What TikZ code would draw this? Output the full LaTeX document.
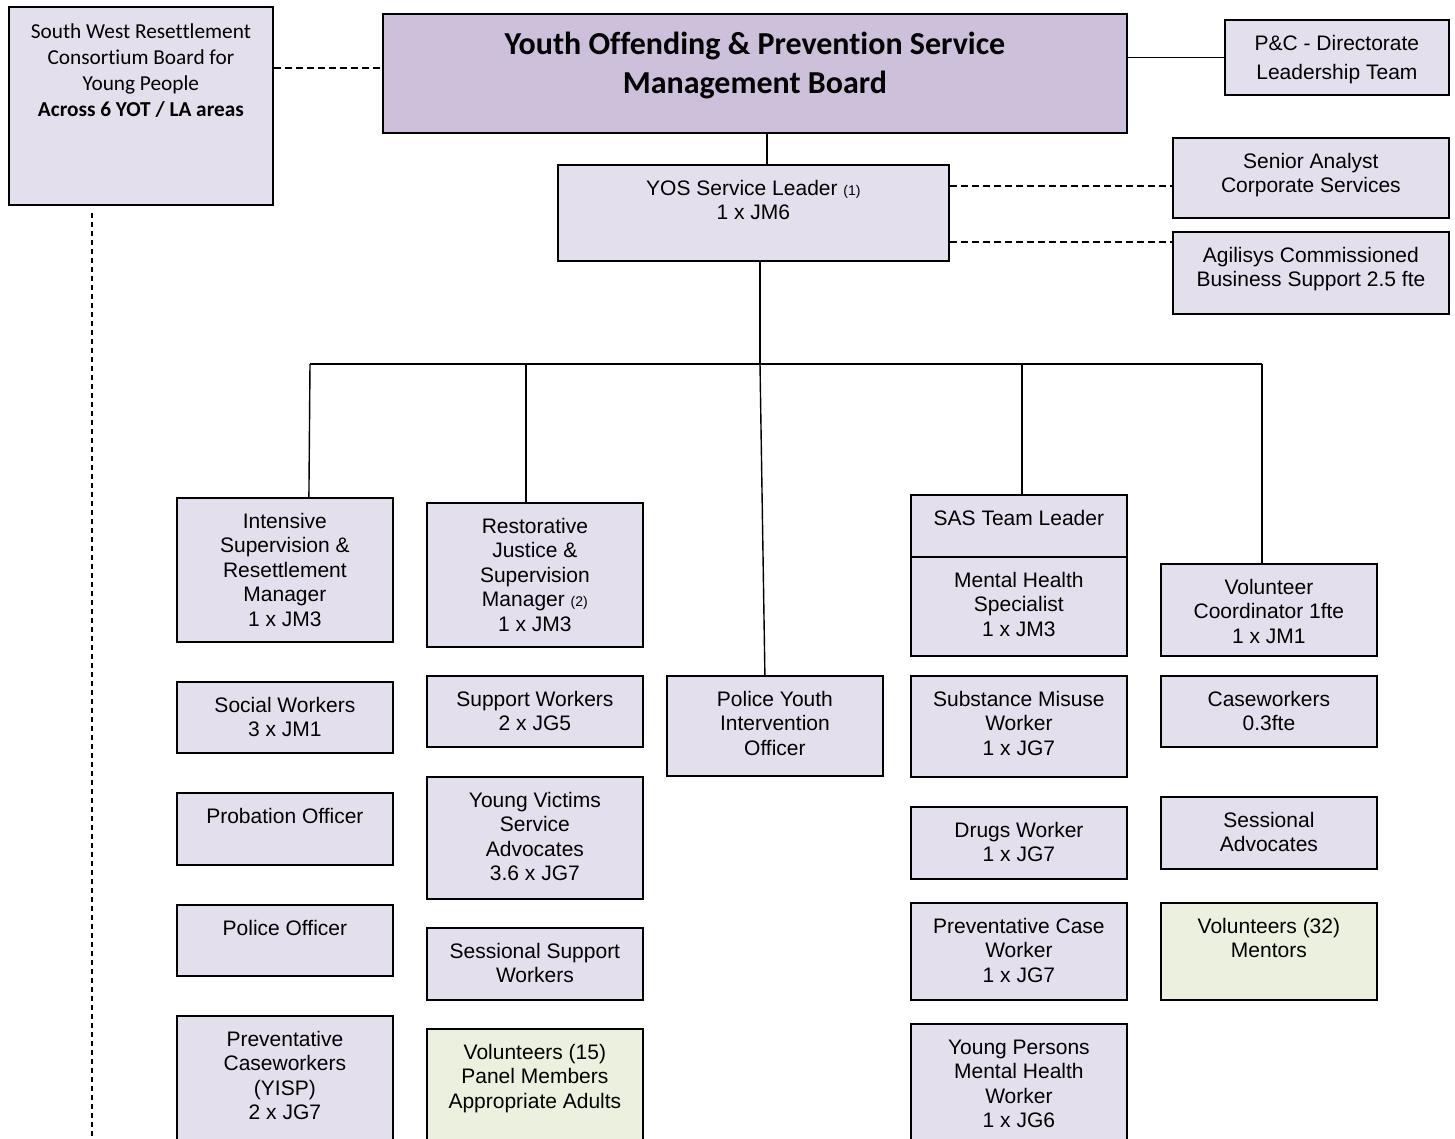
\documentclass[tikz,border=0pt]{standalone}
\usepackage{fontspec}
\setmainfont{Liberation Sans}
\newfontfamily\calib[Ligatures=NoCommon]{Carlito}
\definecolor{lav}{HTML}{E4DFEC}
\definecolor{brd}{HTML}{CCC0DA}
\definecolor{grn}{HTML}{EBF1DE}
\tikzset{
  obx/.style={draw=black, line width=1.8pt, fill=lav, inner sep=0pt, rectangle},
  otx/.style={inner sep=0pt, align=center, font=\fontsize{21}{24.5}\selectfont},
  conn/.style={line width=1.4pt, black},
  dsh/.style={line width=1.4pt, dash pattern=on 7pt off 4pt},
  dshv/.style={line width=1.6pt, dash pattern=on 5pt off 4pt},
}
\newcommand\mystrut{\rule{0pt}{16pt}}
\newcommand\sm[1]{{\fontsize{14}{14}\selectfont #1}}
\newcommand\obox[7][]{%
  \node[obx,#1,minimum width=#5-#3,minimum height=#6-#4,anchor=north west] (#2) at (#3,#4) {};
  \node[otx,anchor=north] (#2t) at ([yshift=-15pt]#2.north) {\mystrut#7};
}
\begin{document}
\begin{tikzpicture}[x=1pt,y=-1pt]
\useasboundingbox (0,0) rectangle (1455,1138);
\clip (0,0) rectangle (1455,1138);
\fill[white] (0,0) rectangle (1455,1138);

% top
\node[obx, fill=brd, minimum width=744, minimum height=119, anchor=north west] (board) at (382,13) {};
\node[inner sep=0pt, align=center, font=\calib\bfseries\fontsize{32}{39}\selectfont, anchor=north] (boardt) at ([yshift=-16pt]board.north) {\rule{0pt}{25pt}Youth Offending \& Prevention Service\\Management Board};

\node[obx, minimum width=264, minimum height=198, anchor=north west] (sw) at (8,6) {};
\node[inner sep=0pt, align=center, font=\calib\fontsize{21.3}{26}\selectfont, anchor=north] (swt) at ([yshift=-15pt]sw.north) {\rule{0pt}{17pt}South West Resettlement\\Consortium Board for\\Young People\\\textbf{Across 6 YOT / LA areas}};

\obox{pc}{1224}{19}{1448}{94}{P\&C - Directorate\\[4.5pt]Leadership Team}
\obox{yos}{557}{164}{948}{260}{YOS Service Leader \sm{(1)}\\1 x JM6}
\obox{sa}{1172}{137}{1448}{217}{Senior Analyst\\Corporate Services}
\obox{ag}{1172}{231}{1448}{313}{Agilisys Commissioned\\Business Support 2.5 fte}

% column 1
\obox{isr}{176}{497}{392}{641}{Intensive\\Supervision \&\\Resettlement\\Manager\\1 x JM3}
\obox{soc}{176}{681}{392}{752}{Social Workers\\3 x JM1}
\obox{prob}{176}{792}{392}{864}{Probation Officer}
\obox{pol}{176}{904}{392}{975}{Police Officer}
\obox{pcw}{176}{1015}{392}{1150}{Preventative\\Caseworkers\\(YISP)\\2 x JG7}

% column 2
\obox{rj}{426}{502}{642}{646}{Restorative\\Justice \&\\Supervision\\Manager \sm{(2)}\\1 x JM3}
\obox{sup}{426}{675}{642}{746}{Support Workers\\2 x JG5}
\obox{yv}{426}{776}{642}{898}{Young Victims\\Service\\Advocates\\3.6 x JG7}
\obox{ssw}{426}{927}{642}{999}{Sessional Support\\Workers}
\obox[fill=grn]{vol15}{426}{1028}{642}{1150}{Volunteers (15)\\Panel Members\\Appropriate Adults}

% column 3
\obox{pyio}{666}{675}{882}{775}{Police Youth\\Intervention\\Officer}

% column 4
\obox{sas}{910}{494}{1126}{556}{SAS Team Leader}
\obox{mhs}{910}{556}{1126}{655}{Mental Health\\Specialist\\1 x JM3}
\obox{smw}{910}{675}{1126}{776}{Substance Misuse\\Worker\\1 x JG7}
\obox{dw}{910}{806}{1126}{878}{Drugs Worker\\1 x JG7}
\obox{pcw2}{910}{902}{1126}{999}{Preventative Case\\Worker\\1 x JG7}
\obox{ypm}{910}{1023}{1126}{1150}{Young Persons\\Mental Health\\Worker\\1 x JG6}

% column 5
\obox{vc}{1160}{563}{1376}{655}{Volunteer\\Coordinator 1fte\\1 x JM1}
\obox{cw}{1160}{675}{1376}{746}{Caseworkers\\0.3fte}
\obox{sadv}{1160}{796}{1376}{868}{Sessional\\Advocates}
\obox[fill=grn]{vol32}{1160}{902}{1376}{999}{Volunteers (32)\\Mentors}

% connectors
\coordinate (ydash) at (0,68);
\coordinate (ya) at (0,186);
\coordinate (yb) at (0,242);
\draw[dsh] (sw.east |- ydash) -- (board.west |- ydash);
\draw[conn] (board.east |- pc.west) -- (pc.west);
\draw[conn] ([xshift=12pt]board.south) -- ([xshift=13.5pt]yos.north);
\draw[dsh] (yos.east |- ya) -- (sa.west |- ya);
\draw[dsh] (yos.east |- yb) -- (ag.west |- yb);

\coordinate (bus) at (760,364);
\coordinate (busL) at (310,364);
\coordinate (busRJ) at (526,364);
\coordinate (busSAS) at (1022,364);
\coordinate (busR) at (1262,364);
\draw[conn] (yos.south -| bus) -- (bus);
\draw[conn] (busL) -- (busR);
\draw[conn] (busL) -- ([xshift=24pt]isr.north);
\draw[conn] (busRJ) -- (rj.north -| busRJ);
\draw[conn] (bus) -- ([xshift=-10pt]pyio.north);
\draw[conn] (busSAS) -- (sas.north -| busSAS);
\draw[conn] (busR) -- (vc.north -| busR);

\coordinate (lt) at (92,213);
\coordinate (lb) at (92,1140);
\draw[dshv] (lt) -- (lb);
\end{tikzpicture}
\end{document}
